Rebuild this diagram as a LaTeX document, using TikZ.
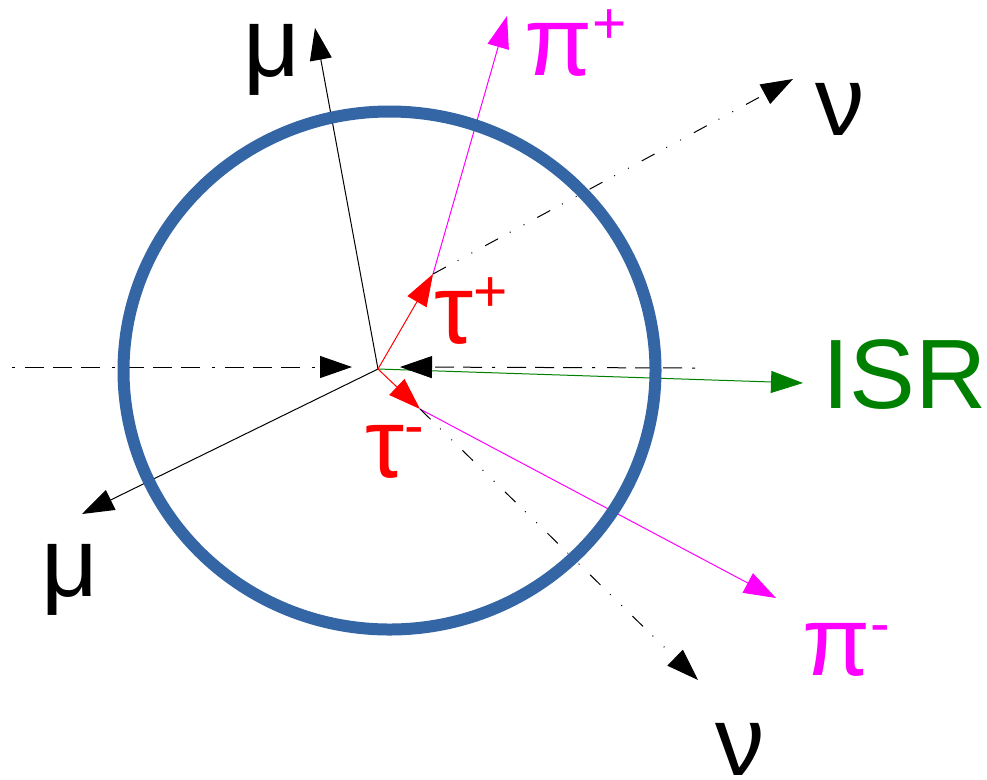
\documentclass[tikz,border=0pt]{standalone}
\usepackage{fontspec}
\setmainfont{Liberation Sans}
\usetikzlibrary{arrows.meta}
\definecolor{ringblue}{HTML}{3465A4}
\definecolor{isrgreen}{HTML}{008000}
\definecolor{pimag}{HTML}{FF00FF}
\definecolor{taured}{HTML}{FF0000}
\tikzset{
 tiparrow/.style={-{Triangle[length=24pt,width=16.5pt]}},
 thinline/.style={line width=0.75pt, tiparrow},
 nudash/.style={dash pattern=on 11pt off 10pt on 0.75pt off 11pt on 0.75pt off 11pt},
 beamdash/.style={dash pattern=on 2.25pt off 7.5pt on 14.25pt off 6.75pt on 14.25pt off 6.75pt on 14.25pt off 9pt},
 lbl/.style={anchor=base west, inner sep=0pt, font=\fontsize{74pt}{80pt}\selectfont}
}
\newcommand{\supr}[1]{\raisebox{24pt}[0pt][0pt]{\fontsize{44pt}{48pt}\selectfont #1}}
\begin{document}
\begin{tikzpicture}[x=0.75pt,y=-0.75pt]
\useasboundingbox (0,0) rectangle (987,779);
\coordinate (O) at (378,369);
\coordinate (tp) at (433,274);
\coordinate (tm) at (420,409);
\coordinate (muU) at (315,28);
\coordinate (piP) at (507,16);
\coordinate (nuU) at (793,79);
\coordinate (isr) at (803,383);
\coordinate (bL0) at (12,367);
\coordinate (bL1) at (352,367);
\coordinate (bR0) at (695,368);
\coordinate (bR1) at (400,367);
\coordinate (piM) at (776,598);
\coordinate (nuL) at (698,680);
\coordinate (muL) at (82,514);

\draw[thinline, black] (O) -- (muU);
\draw[thinline, black] (O) -- (muL);
\draw[thinline, pimag] (tp) -- (piP);
\draw[thinline, pimag] (tm) -- (piM);
\draw[thinline, nudash] (tp) -- (nuU);
\draw[thinline, nudash] (tm) -- (nuL);
\draw[thinline, isrgreen] (O) -- (isr);
\draw[thinline, beamdash] (bL0) -- (bL1);
\draw[thinline, beamdash] (bR0) -- (bR1);
\draw[thinline, taured] (O) -- (tp);
\draw[thinline, taured] (O) -- (tm);

\draw[ringblue, line width=9pt] (389.5,370.5) ellipse [x radius=199.5pt, y radius=194.25pt];

\node[lbl] (lmuU) at (243,76) {μ};
\node[lbl, text=pimag] (lpiP) at (524,75) {π\supr{+}};
\node[lbl] (lnuU) at (815,135) {ν};
\node[lbl, text=taured] (ltauP) at (434,343) {τ\supr{+}};
\node[lbl, text=isrgreen] (lisr) at (822,408) {ISR};
\node[lbl, text=taured] (ltauM) at (365,477) {τ\supr{-}};
\node[lbl, text=pimag] (lpiM) at (802,675) {π\supr{-}};
\node[lbl] (lnuL) at (715,775) {ν};
\node[lbl] (lmuL) at (41,596) {μ};
\end{tikzpicture}
\end{document}
